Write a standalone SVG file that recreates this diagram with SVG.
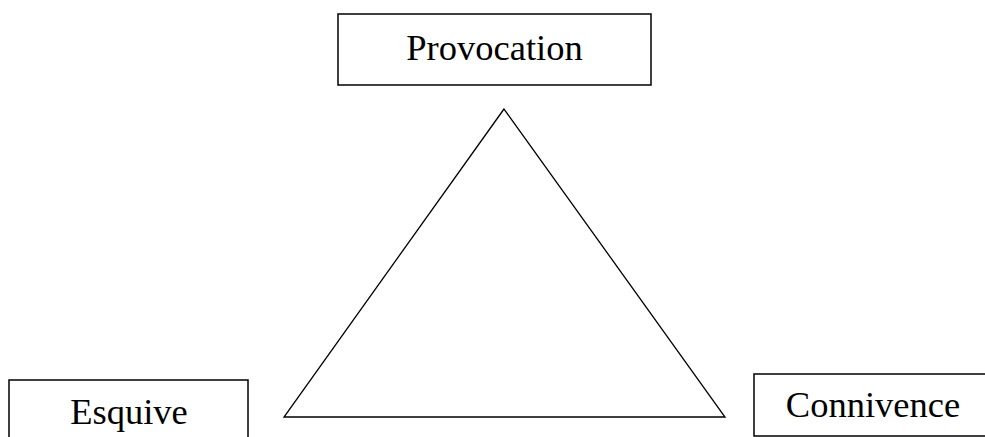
<svg xmlns="http://www.w3.org/2000/svg" width="985" height="437" viewBox="0 0 985 437">
<style>
.box{fill:#fff;stroke:#000;stroke-width:1.5}
.lbl{font-family:"Liberation Serif","Times New Roman",serif;font-size:36.5px;fill:#000;text-anchor:middle}
.edge{fill:none;stroke:#000;stroke-width:1.3}
</style>
<rect width="985" height="437" fill="#fff"/>
<g id="connectors">
<polygon class="edge" points="504,109 284,417 725,417"/>
</g>
<g id="provocation">
<rect class="box" x="338" y="14" width="313" height="71"/>
<text class="lbl" x="494.5" y="60">Provocation</text>
</g>
<g id="esquive">
<rect class="box" x="9" y="380" width="239" height="70"/>
<text class="lbl" x="129" y="424">Esquive</text>
</g>
<g id="connivence">
<rect class="box" x="754" y="374" width="240" height="62"/>
<text class="lbl" x="873" y="417">Connivence</text>
</g>
</svg>
